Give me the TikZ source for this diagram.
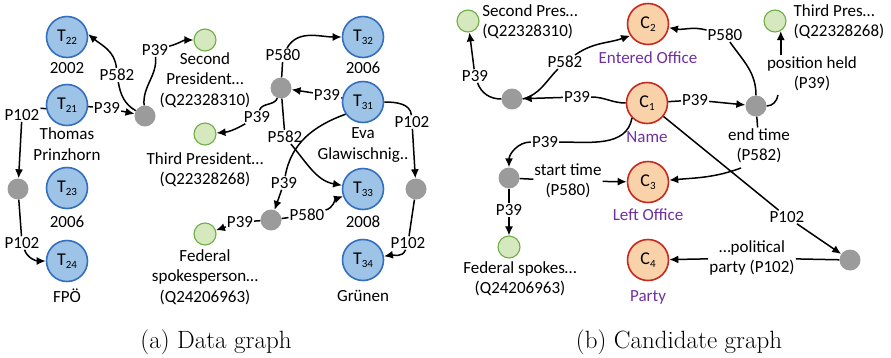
\documentclass[tikz,border=0pt]{standalone}
\usepackage{fontspec}
\newfontfamily\lab{Carlito}
\usetikzlibrary{arrows.meta}
\definecolor{tfill}{RGB}{157,195,230}
\definecolor{tdraw}{RGB}{52,110,190}
\definecolor{cfill}{RGB}{250,210,170}
\definecolor{cdraw}{RGB}{200,40,30}
\definecolor{gfill}{RGB}{213,232,190}
\definecolor{gdraw}{RGB}{112,173,71}
\definecolor{dotgray}{RGB}{155,155,155}
\definecolor{purp}{RGB}{112,48,160}
\newcommand\Tsub[1]{T\raisebox{-3pt}{\fontsize{11}{11}\selectfont #1}}
\newcommand\Csub[1]{C\raisebox{-3pt}{\fontsize{11}{11}\selectfont #1}}
\begin{document}
\begin{tikzpicture}[x=1pt,y=1pt,
  every node/.style={font=\lab\fontsize{17}{20.5}\selectfont, text=black},
  tnode/.style={circle, draw=tdraw, fill=tfill, line width=1.6pt, minimum size=41pt, inner sep=0pt, font=\lab\fontsize{18}{20}\selectfont},
  cnode/.style={circle, draw=cdraw, fill=cfill, line width=1.6pt, minimum size=41pt, inner sep=0pt, font=\lab\fontsize{18}{20}\selectfont},
  gnode/.style={circle, draw=gdraw, fill=gfill, line width=1.1pt, minimum size=22pt, inner sep=0pt},
  gdot/.style={circle, fill=dotgray, minimum size=21pt, inner sep=0pt},
  lbl/.style={inner sep=1pt, align=center},
  txt/.style={align=center, inner sep=0pt},
  ptxt/.style={txt, text=purp},
  conn/.style={line width=1.5pt, draw=black},
  arr/.style={conn, -{Latex[length=9pt,width=8pt]}},
  capt/.style={font=\normalfont\fontsize{25}{29}\selectfont},
]
\useasboundingbox (0,0) rectangle (891,-357);

% ---------- (a) Data graph ----------
\node[tnode] (T22) at (67,-37) {\Tsub{22}};
\node[txt] (T22t) at (67,-68) {2002};
\node[tnode] (T21) at (67,-105) {\Tsub{21}};
\node[txt] (T21t) at (67,-144) {Thomas\\Prinzhorn};
\node[gdot] (g1) at (18,-189) {};
\node[tnode] (T23) at (67,-188) {\Tsub{23}};
\node[txt] (T23t) at (67,-222) {2006};
\node[tnode] (T24) at (67,-261) {\Tsub{24}};
\node[txt] (T24t) at (67,-296) {FPÖ};
\node[gdot] (g2) at (145,-116) {};
\node[gnode] (s2) at (205,-40) {};
\node[txt] (s2t) at (205,-80) {Second\\President…\\(Q22328310)};
\node[gdot] (g3) at (281,-88) {};
\node[tnode] (T32) at (363,-37) {\Tsub{32}};
\node[txt] (T32t) at (363,-68) {2006};
\node[tnode] (T31) at (363,-102) {\Tsub{31}};
\node[txt] (T31t) at (363,-145) {Eva\\Glawischnig..};
\node[gnode] (s3) at (205,-134) {};
\node[txt] (s3t) at (205,-170) {Third President…\\(Q22328268)};
\node[tnode] (T33) at (363,-189) {\Tsub{33}};
\node[txt] (T33t) at (363,-222) {2008};
\node[gdot] (g4) at (271,-220) {};
\node[gnode] (sf) at (205,-234) {};
\node[txt] (sft) at (205,-277) {Federal\\spokesperson…\\(Q24206963)};
\node[gdot] (g5) at (416,-189) {};
\node[tnode] (T34) at (363,-260) {\Tsub{34}};
\node[txt] (T34t) at (363,-296) {Grünen};

\node[lbl] (l1) at (22,-115) {P102};
\node[lbl] (l2) at (22,-243) {P102};
\node[lbl] (l3) at (107,-108) {P39};
\node[lbl] (l4) at (117,-75) {P582};
\node[lbl] (l5) at (155,-50) {P39};
\node[lbl] (l6) at (283,-55) {P580};
\node[lbl] (l7) at (327,-95) {P39};
\node[lbl] (l8) at (257,-117) {P39};
\node[lbl] (l9) at (285,-137) {P582};
\node[lbl] (l10) at (284,-183) {P39};
\node[lbl] (l11) at (307,-215) {P580};
\node[lbl] (l12) at (240,-222) {P39};
\node[lbl] (l13) at (412,-122) {P102};
\node[lbl] (l14) at (408,-243) {P102};

\draw[conn] (T21.190) -- (l1.north east);
\draw[arr] (l1) -- (g1);
\draw[conn] (g1) -- (l2);
\draw[arr] (l2) to[out=-70,in=180] (T24);
\draw[conn] (T21) -- (l3);
\draw[arr] (l3) -- (g2);
\draw[conn] (g2) to[out=150,in=-80] (l4);
\draw[arr] (l4) to[out=95,in=-40] (T22.8);
\draw[conn] (g2) to[out=95,in=-85] (l5);
\draw[arr] (l5) to[out=15,in=180] (s2);
\draw[conn] (g3) -- (l6);
\draw[arr] (l6) to[out=60,in=180] (T32);
\draw[conn] (T31) -- (l7);
\draw[arr] (l7) -- (g3);
\draw[conn] (g3) to[out=-110,in=70] (l8);
\draw[arr] (l8) to[out=-150,in=5] (s3);
\draw[conn] (g3) -- (l9);
\draw[arr] (l9) to[out=-50,in=170] (T33);
\draw[conn] (T31.215) to[out=200,in=80] (l10);
\draw[arr] (l10) -- (g4);
\draw[conn] (g4) -- (l11);
\draw[arr] (l11) to[out=15,in=200] (T33);
\draw[conn] (g4) -- (l12);
\draw[arr] (l12) -- (sf);
\draw[conn] (T31) to[out=0,in=95] (l13);
\draw[arr] (l13) -- (g5);
\draw[conn] (g5) -- (l14);
\draw[arr] (l14) to[out=-110,in=10] (T34);

% ---------- (b) Candidate graph ----------
\node[gnode] (gs2) at (468,-21) {};
\node[txt, align=left] (gs2t) at (530,-22) {Second Pres…\\(Q22328310)};
\node[gdot] (d1) at (512,-99) {};
\node[cnode] (C2) at (648,-24) {\Csub{2}};
\node[ptxt] (C2t) at (648,-58) {Entered Office};
\node[cnode] (C1) at (647,-103) {\Csub{1}};
\node[ptxt] (C1t) at (647,-137) {Name};
\node[gdot] (d2) at (756,-106) {};
\node[gnode] (gt3) at (775,-21) {};
\node[txt, align=left] (gt3t) at (839,-22) {Third Pres…\\(Q22328268)};
\node[cnode] (C3) at (648,-182) {\Csub{3}};
\node[ptxt] (C3t) at (648,-215) {Left Office};
\node[gdot] (d3) at (509,-178) {};
\node[gnode] (gf) at (509,-247) {};
\node[txt] (gft) at (520,-279) {Federal spokes…\\(Q24206963)};
\node[cnode] (C4) at (648,-260) {\Csub{4}};
\node[ptxt] (C4t) at (648,-297) {Party};
\node[gdot] (d4) at (850,-260) {};

\node[lbl] (r1) at (475,-76) {P39};
\node[lbl] (r2) at (577,-97) {P39};
\node[lbl] (r3) at (565,-62) {P582};
\node[lbl] (r4) at (695,-100) {P39};
\node[lbl] (r5) at (725,-35) {P580};
\node[lbl] (r6) at (812,-74) {position held\\(P39)};
\node[lbl] (r7) at (759,-146) {end time\\(P582)};
\node[lbl] (r8) at (545,-142) {P39};
\node[lbl] (r9) at (568,-181) {start time\\(P580)};
\node[lbl] (r10) at (509,-210) {P39};
\node[lbl] (r11) at (787,-217) {P102};
\node[lbl] (r12) at (752,-258) {…political\\party (P102)};
\coordinate (r6e) at (778,-95);
\coordinate (r7e) at (741,-168);

\draw[conn] (d1) to[out=180,in=-70] (r1);
\draw[arr] (r1) -- (gs2);
\draw[conn] (C1) to[out=180,in=0] (r2);
\draw[arr] (r2) -- (d1);
\draw[conn] (d1.east) to[out=15,in=-135] (r3);
\draw[arr] (r3) to[out=35,in=200] (C2.213);
\draw[conn] (C1) -- (r4);
\draw[arr] (r4) -- (d2);
\draw[conn] (d2) to[out=90,in=-55] (r5);
\draw[arr] (r5) to[out=165,in=-10] (C2);
\draw[conn] (d2.east) to[out=0,in=-100] (r6e);
\draw[arr] (r6.north -| gt3.-60) -- (gt3.-60);
\draw[conn] (d2) -- (r7);
\draw[arr] (r7e) to[out=-160,in=5] (C3);
\draw[conn] (C1.225) to[out=-100,in=0] (r8);
\draw[arr] (r8) to[out=180,in=90] (d3);
\draw[conn] (d3) -- (r9);
\draw[arr] (r9) -- (C3);
\draw[conn] (d3) -- (r10);
\draw[arr] (r10) -- (gf);
\draw[conn] (C1) -- (r11);
\draw[arr] (r11) -- (d4);
\draw[conn] (d4) -- (r12);
\draw[arr] (r12) -- (C4);

% ---------- captions ----------
\node[capt] (capa) at (216,-342) {(a) Data graph};
\node[capt] (capb) at (679,-342) {(b) Candidate graph};
\end{tikzpicture}
\end{document}
